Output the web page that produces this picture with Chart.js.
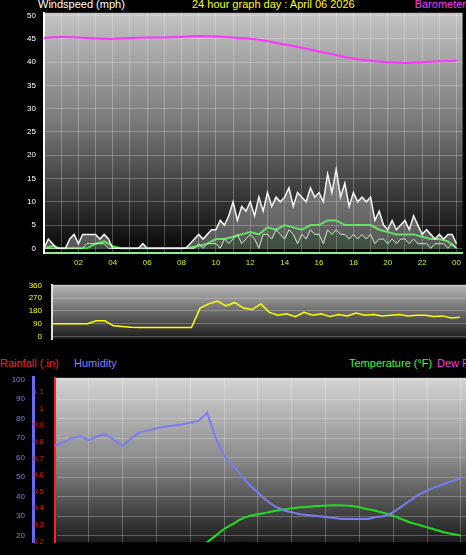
<!DOCTYPE html>
<html>
<head>
<meta charset="utf-8">
<script src="https://cdn.jsdelivr.net/npm/chart.js@4"></script>
<style>
  body { margin: 0; background: #000; width: 466px; height: 555px; overflow: hidden; position: relative; font-family: 'Liberation Sans', Arial, sans-serif; }
  canvas { position: absolute; left: 0; }
  .lbl { position: absolute; font-size: 11px; line-height: 11px; white-space: nowrap; }
</style>
</head>
<body>
<div class="lbl" style="left:38px;top:-1px;color:#fff">Windspeed (mph)</div>
<div class="lbl" style="left:192px;top:-1px;color:#ffff00">24 hour graph day : April 06 2026</div>
<div class="lbl" style="right:0;top:-1px;color:#ff33ff">Barometer</div>
<div class="lbl" style="left:0;top:358px;color:#ff2020">Rainfall (.in)</div>
<div class="lbl" style="left:74px;top:358px;color:#8080ff">Humidity</div>
<div class="lbl" style="left:349px;top:358px;color:#33ff33">Temperature (°F)</div>
<div class="lbl" style="left:437px;top:358px;color:#ff33ff">Dew Point</div>
<canvas id="windChart" width="466" height="270" style="top:0"></canvas>
<canvas id="dirChart" width="466" height="84" style="top:270px"></canvas>
<canvas id="humChart" width="466" height="190" style="top:365px"></canvas>
<script>
// time axis (hours)
const hours = [2, 4, 6, 8, 10, 12, 14, 16, 18, 20, 22, 24];
const halfHours = [];
for (let i = 0; i <= 48; i++) halfHours.push(i / 2);
const quarterHours = [];
for (let i = 0; i <= 96; i++) quarterHours.push(i / 4);
const hourly = [];
for (let i = 0; i <= 24; i++) hourly.push(i);

// wind gust, 15 min
const windGust = [
  0, 2, 1, 0,   0, 0, 2, 3,   1, 3, 3, 3,   3, 2, 3, 2,
  0, 0, 0, 0,   0, 0, 0, 1,   0, 0, 0, 0,   0, 0, 0, 0,
  0, 0, 1, 2,   3, 2, 3, 4,   4, 6, 5, 7,   10, 6, 9, 8,
  10, 7, 11, 8, 12, 9, 11, 10, 11, 13, 9, 12, 11, 10, 13, 11,
  12, 10, 16, 12, 17, 11, 14, 9, 12, 10, 11, 10, 11, 6, 8, 5,
  4, 6, 4, 5,   6, 4, 7, 5,   3, 4, 3, 2,   3, 2, 3, 3,  1
];
// wind lull, 15 min
const windLow = [
  0, 0, 0, 0,   0, 0, 0, 0,   0, 0, 1, 1,   1, 1, 1, 0,
  0, 0, 0, 0,   0, 0, 0, 0,   0, 0, 0, 0,   0, 0, 0, 0,
  0, 0, 0, 0,   1, 0, 1, 1,   1, 0, 2, 1,   2, 3, 1, 2,
  3, 2, 0, 3,   3, 2, 4, 3,   2, 4, 3, 1,   3, 2, 4, 3,
  3, 1, 4, 3,   4, 3, 3, 2,   3, 2, 3, 2,   3, 1, 2, 2,
  1, 2, 1, 2,   2, 1, 2, 1,   1, 1, 0, 1,   1, 1, 0, 1,  0
];
// average wind, 30 min
const windAvg = [
  0, 0.5, 0, 0, 0, 0, 1, 1.5, 0.5, 0, 0, 0, 0, 0, 0, 0, 0, 0.2,
  0.5, 1, 2, 2, 2.5, 3, 3.5, 3, 4.5, 4, 5, 4.5, 4, 5, 5, 6,
  6, 5, 5, 5, 5, 4, 3.5, 3, 3, 3, 2.5, 2, 2, 1.5, 0
];
// barometer on windspeed scale, hourly
const baro = [45.2, 45.4, 45.3, 45.1, 45.0, 45.2, 45.3, 45.3, 45.4, 45.6, 45.5, 45.3, 45.0,
  44.5, 43.8, 43.1, 42.3, 41.5, 40.8, 40.3, 40.0, 39.8, 40.0, 40.2, 40.3];
// wind direction, 30 min
const windDir = [90, 90, 90, 90, 90, 90, 110, 110, 75, 70, 65, 62, 62, 62, 62, 62, 62, 62,
  200, 230, 250, 215, 240, 200, 190, 230, 170, 150, 160, 140, 170, 150, 160, 140,
  155, 145, 165, 150, 155, 145, 150, 155, 145, 150, 150, 140, 145, 130, 135];
// humidity, 30 min
const humidity = [66, 68, 70, 71, 69, 71, 72, 69, 66, 70, 73, 74, 75, 76, 76.5, 77, 78, 79,
  83, 70, 61, 56, 51, 46, 42, 38, 35, 33, 32, 31, 30.5, 30, 29.5, 29, 28.5, 28.5, 28.5,
  28.5, 29.5, 30, 32, 35, 38, 41, 43, 45, 46.5, 48, 49.5];
// temperature, 30 min
const temperature = [40, 40, 40, 40, 40, 40, 40, 40, 40, 40, 40, 40, 40, 40, 40, 40, 41, 43,
  45, 47, 49, 50.5, 52, 53, 53.5, 54, 54.5, 55, 55.3, 55.6, 55.8, 56, 56.1, 56.2, 56.2, 56,
  55.6, 55, 54.5, 53.8, 53, 52, 51, 50.3, 49.5, 48.8, 48, 47.5, 47];

const humTicks = [20, 30, 40, 50, 60, 70, 80, 90, 100];
const rainTicks = [0.2, 0.3, 0.4, 0.5, 0.6, 0.7, 0.8, 0.9, 1.0, 1.1];
const dirTicks = [0, 90, 180, 270, 360];
const windTicks = [0, 5, 10, 15, 20, 25, 30, 35, 40, 45, 50];

function pts(xs, ys) { return ys.map((v, i) => ({ x: xs[i], y: v })); }

function bgPlugin(stops) {
  return {
    id: 'bg',
    beforeDraw(chart) {
      const a = chart.chartArea, ctx = chart.ctx;
      const g = ctx.createLinearGradient(0, a.top, 0, a.bottom);
      stops.forEach(s => g.addColorStop(s[0], s[1]));
      ctx.save();
      ctx.fillStyle = g;
      ctx.fillRect(a.left, a.top, a.right - a.left, a.bottom - a.top);
      ctx.restore();
    }
  };
}

const grid = { color: 'rgba(255,255,255,0.25)', lineWidth: 1, drawTicks: false };
const tickFont = { family: 'Liberation Sans', size: 8 };
const base = { responsive: false, animation: false, devicePixelRatio: 1, plugins: { legend: { display: false }, tooltip: { enabled: false } } };

// Windspeed + barometer
new Chart(document.getElementById('windChart'), {
  type: 'line',
  data: {
    datasets: [
      { data: pts(hourly, baro), borderColor: '#ff33ff', borderWidth: 2, pointRadius: 0, tension: 0.3 },
      { data: pts(quarterHours, windGust), borderColor: '#f4f4f4', backgroundColor: 'rgba(230,230,230,0.35)', fill: { target: 2 }, borderWidth: 1.5, pointRadius: 0 },
      { data: pts(quarterHours, windLow), borderColor: '#c8f0c8', backgroundColor: 'rgba(190,235,190,0.3)', fill: 'origin', borderWidth: 1, pointRadius: 0 },
      { data: pts(halfHours, windAvg), borderColor: '#22dd22', borderWidth: 2, pointRadius: 0 }
    ]
  },
  options: Object.assign({}, base, {
    layout: { padding: { top: 10 } },
    scales: {
      x: {
        type: 'linear', min: 0, max: 24.35,
        afterBuildTicks: s => { s.ticks = hourly.slice(1).map(v => ({ value: v })); },
        afterFit: s => { s.height = 17; },
        grid: Object.assign({}, grid), border: { color: '#90ee90', width: 2 },
        ticks: { color: '#ccee00', font: tickFont, padding: 5, autoSkip: false,
          callback: v => v % 2 ? '' : String(v % 24).padStart(2, '0') }
      },
      y: {
        min: -1, max: 50.6,
        afterBuildTicks: s => { s.ticks = windTicks.map(v => ({ value: v })); },
        afterFit: s => { s.width = 44; },
        grid: Object.assign({}, grid), border: { color: '#ffffff', width: 2 },
        ticks: { color: '#ffffff', font: tickFont, padding: 8 }
      }
    }
  }),
  plugins: [bgPlugin([[0, '#c4c4c4'], [0.45, '#7a7a7a'], [1, '#050505']])]
});

// Wind direction
new Chart(document.getElementById('dirChart'), {
  type: 'line',
  data: { datasets: [
    { data: pts(halfHours, windDir), borderColor: '#ffff00', borderWidth: 1.5, pointRadius: 0 }
  ] },
  options: Object.assign({}, base, {
    layout: { padding: { top: 2 } },
    scales: {
      x: { type: 'linear', min: 0.45, max: 24.35, display: false },
      y: {
        min: -20, max: 365,
        afterBuildTicks: s => { s.ticks = dirTicks.map(v => ({ value: v })); },
        afterFit: s => { s.width = 52; },
        grid: Object.assign({}, grid), border: { color: '#dddddd', width: 2 },
        ticks: { color: '#ffff00', font: tickFont, padding: 10 }
      }
    }
  }),
  plugins: [bgPlugin([[0, '#b8b8b8'], [1, '#1a1a1a']])]
});

// Humidity / rainfall / temperature
new Chart(document.getElementById('humChart'), {
  type: 'line',
  data: { datasets: [
    { data: pts(halfHours, humidity), yAxisID: 'hum', borderColor: '#7b7bf0', borderWidth: 2, pointRadius: 0 },
    { data: pts(halfHours, temperature), yAxisID: 'temp', borderColor: '#22dd22', borderWidth: 2, pointRadius: 0, tension: 0.3 }
  ] },
  options: Object.assign({}, base, {
    layout: { padding: { top: 2 } },
    scales: {
      x: {
        type: 'linear', min: 0, max: 24.3, ticks: { display: false },
        afterBuildTicks: s => { s.ticks = hours.map(v => ({ value: v })); },
        afterFit: s => { s.height = 0; },
        grid: Object.assign({}, grid), border: { display: false }
      },
      hum: {
        position: 'left', weight: 1, min: 16.6, max: 101,
        afterBuildTicks: s => { s.ticks = humTicks.map(v => ({ value: v })); },
        afterFit: s => { s.width = 33; },
        grid: Object.assign({}, grid), border: { color: '#6a6af0', width: 3 },
        ticks: { color: '#7b7bf0', font: tickFont, padding: 8 }
      },
      rain: {
        position: 'left', weight: 0, min: 0.196, max: 1.185,
        afterBuildTicks: s => { s.ticks = rainTicks.map(v => ({ value: v })); },
        afterFit: s => { s.width = 22; },
        grid: { display: false }, border: { color: '#ff2020', width: 2, dash: [1, 2] },
        ticks: { color: '#ee1010', font: tickFont, padding: 3, callback: v => v === 1 ? '1' : v.toFixed(1) }
      },
      temp: { position: 'right', display: false, min: 45, max: 95 }
    }
  }),
  plugins: [bgPlugin([[0, '#d4d4d4'], [0.5, '#8a8a8a'], [1, '#1c1c1c']])]
});
</script>
</body>
</html>
